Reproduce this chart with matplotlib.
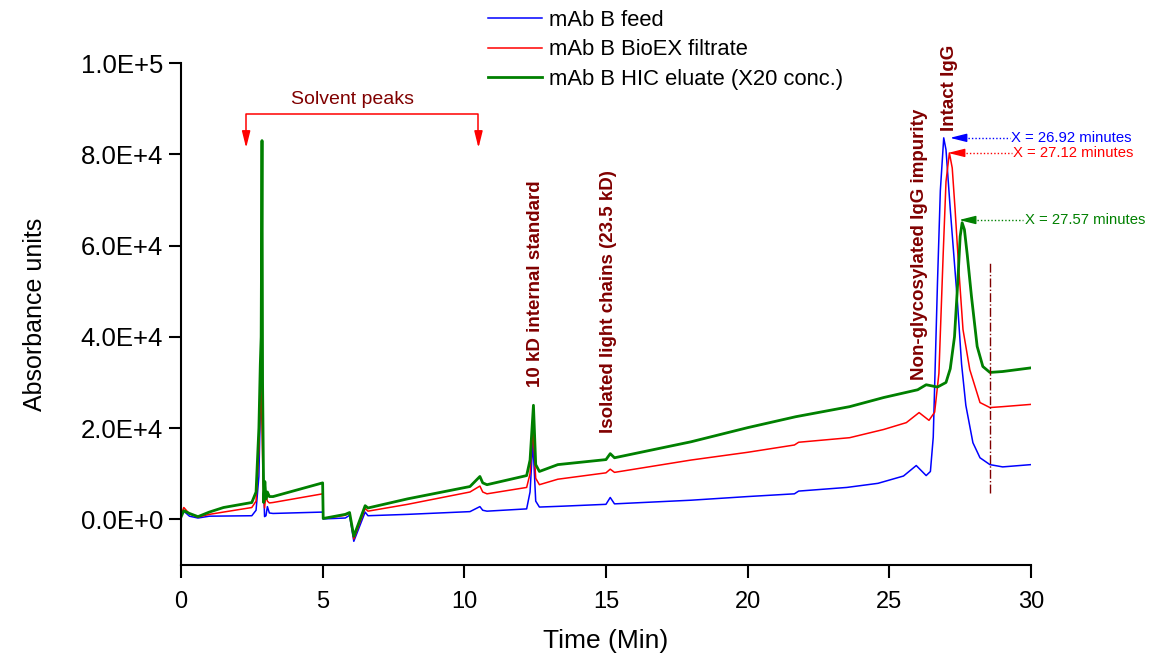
import numpy as np
import matplotlib
matplotlib.use("Agg")
import matplotlib.pyplot as plt
from matplotlib.ticker import FuncFormatter, MultipleLocator

plt.rcParams["font.family"] = ["Liberation Sans", "DejaVu Sans"]

# chromatogram traces (time in min, absorbance units)
t_feed = [0.0, 0.1, 0.3, 0.6, 1.0, 2.5, 2.65, 2.75, 2.82, 2.86, 2.9, 2.95, 3.0, 3.05, 3.12, 3.25,
          5.0, 5.02, 5.8, 5.95, 6.1, 6.5, 6.6, 8.0, 10.2, 10.55, 10.65, 10.8, 12.2, 12.32, 12.42,
          12.52, 12.65, 13.5, 15.0, 15.15, 15.3, 18.0, 20.0, 21.65, 21.8, 23.5, 24.6, 25.5, 25.95,
          26.3, 26.45, 26.55, 26.7, 26.8, 26.92, 27.0, 27.15, 27.4, 27.55, 27.7, 27.95, 28.2,
          28.55, 29.0, 30.0]
au_feed = [800, 1800, 700, 300, 700, 800, 2000, 9400, 30000, 46000, 12000, 600, 800, 2800, 1400,
           1300, 1600, 100, 300, 900, -4800, 1600, 800, 1100, 1700, 2800, 2000, 1800, 2300, 6000,
           17000, 4000, 2700, 2900, 3300, 4800, 3400, 4200, 5000, 5600, 6200, 7000, 7900, 9500,
           11800, 9600, 10500, 18000, 52000, 72000, 83600, 81000, 68000, 48000, 34000, 25000,
           16800, 13500, 12000, 11500, 12000]

t_filt = [0.0, 0.1, 0.3, 0.6, 1.0, 1.5, 2.5, 2.65, 2.75, 2.82, 2.86, 2.9, 2.95, 3.0, 3.05, 3.12,
          3.25, 5.0, 5.02, 5.8, 5.95, 6.1, 6.5, 6.6, 8.0, 10.2, 10.55, 10.65, 10.8, 12.2, 12.32,
          12.42, 12.52, 12.65, 13.3, 15.0, 15.15, 15.3, 18.0, 20.0, 21.65, 21.8, 23.6, 24.8, 25.6,
          26.05, 26.4, 26.6, 26.75, 26.9, 27.0, 27.12, 27.22, 27.32, 27.45, 27.6, 27.84, 28.2,
          28.55, 29.0, 30.0]
au_filt = [1000, 2600, 1200, 500, 1100, 1600, 2600, 4000, 15300, 30000, 20000, 8000, 2500, 5500,
           4000, 3600, 3700, 5600, 200, 900, 1400, -4300, 2400, 1800, 3300, 6000, 7300, 6000,
           5600, 7000, 10000, 20000, 9000, 7600, 8800, 10200, 11000, 10300, 13000, 14700, 16300,
           16900, 17900, 19700, 21200, 23400, 21700, 23500, 32000, 58000, 74000, 80300, 77000,
           68000, 55000, 41600, 32800, 25600, 24500, 24700, 25200]

t_elu = [0.0, 0.1, 0.3, 0.6, 1.0, 1.5, 2.5, 2.65, 2.75, 2.8, 2.83, 2.86, 2.88, 2.92, 2.96, 3.0,
         3.05, 3.12, 3.25, 5.0, 5.02, 5.8, 5.95, 6.1, 6.5, 6.6, 8.0, 10.2, 10.55, 10.65, 10.8,
         12.2, 12.32, 12.44, 12.52, 12.65, 13.3, 15.0, 15.15, 15.3, 18.0, 20.0, 21.7, 23.6, 24.8,
         26.0, 26.3, 26.7, 27.0, 27.15, 27.3, 27.42, 27.5, 27.57, 27.65, 27.75, 27.9, 28.1, 28.3,
         28.55, 29.0, 30.0]
au_elu = [500, 1900, 1300, 600, 1600, 2600, 3700, 6000, 20000, 34000, 40000, 83000, 30000, 3700,
          8300, 4500, 6000, 5000, 5000, 8000, 200, 1100, 1500, -3700, 3000, 2500, 4500, 7200,
          9400, 8000, 7600, 9600, 13000, 25000, 12000, 10500, 12000, 13100, 14400, 13500, 17000,
          20100, 22500, 24700, 26700, 28400, 29500, 29000, 30000, 33000, 40000, 52500, 62000,
          65000, 63500, 58000, 48800, 37900, 33500, 32200, 32400, 33200]

series_labels = ["mAb B feed", "mAb B BioEX filtrate", "mAb B HIC eluate (X20 conc.)"]

# peak labels: text, x, y of the bottom end
peak_names = ["10 kD internal standard", "Isolated light chains (23.5 kD)",
              "Non-glycosylated IgG impurity", "Intact IgG"]
peak_x = [12.52, 15.09, 26.08, 27.14]
peak_y = [28900, 19000, 30600, 85100]

# retention time call-outs
rt_values = [26.92, 27.12, 27.57]
rt_heights = [83600, 80300, 65600]

DARK_RED = "#800000"

fig = plt.figure(figsize=(11.49, 6.57), dpi=100)
ax = fig.add_axes([0.1575, 0.1400, 0.7398, 0.7641])

l1, = ax.plot(t_feed, au_feed, color="#0000ff", lw=1.1)
l2, = ax.plot(t_filt, au_filt, color="#ff0000", lw=1.1)
l3, = ax.plot(t_elu, au_elu, color="#008000", lw=2.0)

ax.set_xlim(0, 30)
ax.set_ylim(-10000, 100000)
ax.xaxis.set_major_locator(MultipleLocator(5))
ax.yaxis.set_major_locator(MultipleLocator(20000))


def sci_fmt(v, pos):
    if v == 0:
        return "0.0E+0"
    e = int(np.floor(np.log10(abs(v))))
    return f"{v / 10 ** e:.1f}E+{e}"


ax.yaxis.set_major_formatter(FuncFormatter(sci_fmt))

for s in ["top", "right"]:
    ax.spines[s].set_visible(False)
for s in ["left", "bottom"]:
    ax.spines[s].set_linewidth(1.5)
ax.tick_params(direction="out", length=9, width=1.5)
ax.tick_params(axis="x", labelsize=17, pad=10)
ax.tick_params(axis="y", labelsize=18.5, pad=4)

ax.set_xlabel("Time (Min)", fontsize=19, labelpad=11)
ax.set_ylabel("Absorbance units", fontsize=18, labelpad=24)

# legend at the top
fig.legend([l1, l2, l3], series_labels, loc="upper left",
           bbox_to_anchor=(488 / 1149, 1 - 10 / 657), frameon=False, fontsize=15.8,
           handlelength=2.45, handletextpad=0.35, labelspacing=0.38,
           borderpad=0, borderaxespad=0)

# solvent peaks bracket
ax.plot([2.3, 2.3, 10.5, 10.5], [84000, 88800, 88800, 84000], color="#ff0000", lw=1.1)
for xb in [2.3, 10.5]:
    ax.annotate("", xy=(xb, 81400), xytext=(xb, 85000),
                arrowprops=dict(arrowstyle="-|>,head_length=1.0,head_width=0.25",
                                color="#ff0000", lw=1.1, shrinkA=0, shrinkB=0,
                                mutation_scale=10))
ax.text(6.04, 92100, "Solvent peaks", color=DARK_RED, fontsize=14, ha="center", va="center")

# rotated peak labels
for name, px, py in zip(peak_names, peak_x, peak_y):
    ax.text(px, py, name, rotation=90, color=DARK_RED, fontsize=13.5, fontweight="bold",
            ha="center", va="bottom", clip_on=False)

# retention time arrows
rt_colors = ["#0000ff", "#ff0000", "#008000"]
tip_x = [27.14, 27.07, 27.46]
text_x = [29.3, 29.37, 29.78]
for rt, yv, c, tx, lx in zip(rt_values, rt_heights, rt_colors, tip_x, text_x):
    ax.plot([tx + 0.4, lx - 0.05], [yv, yv], color=c, lw=1.0, ls=(0, (1, 1.5)), clip_on=False)
    ax.annotate("", xy=(tx, yv), xytext=(tx + 0.5, yv), annotation_clip=False,
                arrowprops=dict(arrowstyle="-|>,head_length=1.0,head_width=0.25",
                                color=c, lw=1.0, shrinkA=0, shrinkB=0, mutation_scale=10))
    ax.text(lx, yv, f"X = {rt:.2f} minutes", color=c, fontsize=10.7, ha="left",
            va="center", clip_on=False)

# end of integration marker
ax.plot([28.55, 28.55], [5700, 56200], color=DARK_RED, lw=1.0, ls="-.")

fig.savefig("out.png", dpi=100)
